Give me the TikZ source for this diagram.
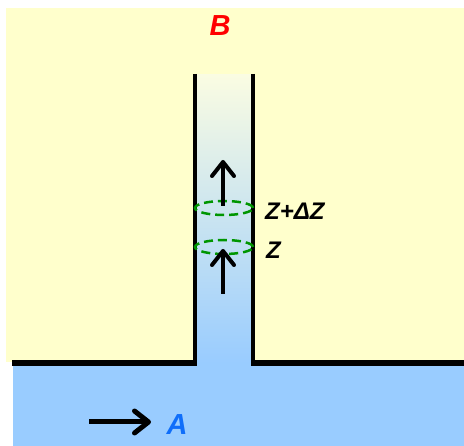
\documentclass[tikz,border=0pt]{standalone}
\usepackage{fontspec}
\setmainfont{Liberation Sans}
\usetikzlibrary{arrows.meta}
\definecolor{sand}{RGB}{255,255,204}
\definecolor{water}{RGB}{153,204,255}
\definecolor{pale}{RGB}{250,252,226}
\definecolor{ringgreen}{RGB}{0,150,0}
\definecolor{ablue}{RGB}{15,110,250}
\tikzset{
  flow/.style = {line width=4pt, -{Straight Barb[length=14pt,width=22pt,round]}},
  wall/.style = {line width=3.5pt},
  base/.style = {line width=6pt},
  ring/.style = {ringgreen, line width=2.5pt, dash pattern=on 9pt off 5pt},
  lbl/.style = {font=\bfseries\itshape\fontsize{24}{24}\selectfont, inner sep=0pt},
  big/.style = {font=\bfseries\itshape\fontsize{29}{29}\selectfont}
}

\begin{document}
\begin{tikzpicture}[x=1pt, y=-1pt]
        \useasboundingbox (0,0) rectangle (464,446);
        % ground and flow
        \fill[sand] (6,8) rectangle (464,362);
        \fill[water] (13,362) rectangle (464,446);
        \shade[top color=pale, bottom color=water] (195,75) rectangle (253,363);
        \draw[base] (12,363) -- (196.5,363);
        \draw[base] (251.5,363) -- (464,363);
        \draw[wall] (195,74) -- (195,366);
        \draw[wall] (253,74) -- (253,366);
        % labels
        \node[big, text=red] (b) at (220,26) {B};
        \node[big, text=ablue] (a) at (177,425) {A};
        \node[lbl, anchor=west] (zdz) at (265,211) {Z+ΔZ};
        \node[lbl, anchor=west] (z) at (266,250) {Z};
        % rings
        \draw[ring] (224,208) ellipse [x radius=29pt, y radius=7pt];
        \draw[ring] (224,247) ellipse [x radius=29pt, y radius=7pt];
        % arrows
        \coordinate (up1s) at (223,206);
        \coordinate (up1e) at (223,160);
        \coordinate (up2s) at (223,294);
        \coordinate (up2e) at (223,249);
        \coordinate (ins) at (89,422);
        \coordinate (ine) at (151,422);
        \draw[flow] (up1s) -- (up1e);
        \draw[flow] (up2s) -- (up2e);
        \draw[flow, line width=5pt] (ins) -- (ine);
      \end{tikzpicture}
\end{document}
